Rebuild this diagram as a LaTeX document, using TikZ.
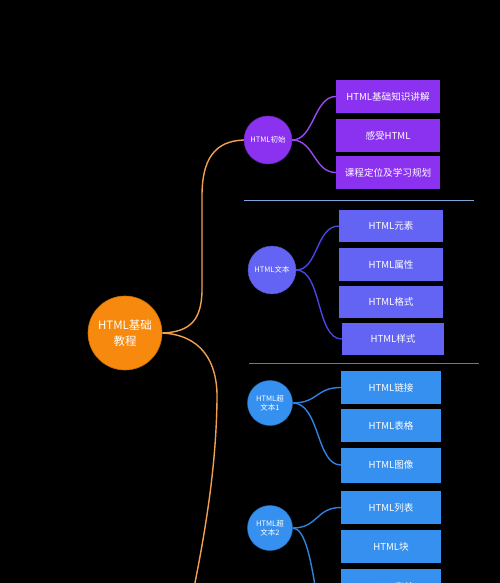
\documentclass[tikz,border=0pt]{standalone}
\usepackage{fontspec}
\setmainfont{Noto Sans CJK SC}
\definecolor{rootc}{HTML}{F7890E}
\definecolor{rootline}{HTML}{F2A050}
\definecolor{purp}{HTML}{8B32F0}
\definecolor{purpline}{HTML}{9A48F0}
\definecolor{indi}{HTML}{6464F4}
\definecolor{indiline}{HTML}{4646E6}
\definecolor{blu}{HTML}{3590F0}
\definecolor{bluline}{HTML}{2E82E2}
\definecolor{sepa}{HTML}{7FA6D6}
\definecolor{sepb}{HTML}{3A82D8}
\tikzset{
  topic/.style={circle, inner sep=0pt, text=white, align=center, font=\fontsize{7.5}{9}\selectfont},
  leaf/.style={rectangle, inner sep=0pt, text=white, align=center, font=\fontsize{9.6}{11}\selectfont, minimum height=33pt},
  conn/.style={line width=1.4pt},
}
\begin{document}
\begin{tikzpicture}[x=1pt,y=-1pt]
\useasboundingbox (0,0) rectangle (500,583);
\clip (0,0) rectangle (500,583);
\fill[black] (0,0) rectangle (500,583);

% root
\node[topic, fill=rootc, draw=rootc!80!black, line width=0.6pt, minimum size=74pt, font=\fontsize{11.5}{16}\selectfont] (root) at (125,333) {HTML基础\\教程};

% section 1
\node[topic, fill=purp, draw=purp!80!black, minimum size=48pt] (init) at (268,140) {HTML初始};
\node[leaf, fill=purp, minimum width=104pt] (b11) at (388,96.5) {HTML基础知识讲解};
\node[leaf, fill=purp, minimum width=104pt] (b12) at (388,135.5) {感受HTML};
\node[leaf, fill=purp, minimum width=104pt] (b13) at (388,172.5) {课程定位及学习规划};
\coordinate (s1a) at (244,200);
\coordinate (s1b) at (474,200);
\draw[sepa, line width=1pt] (s1a) -- (s1b);

% section 2
\node[topic, fill=indi, draw=indi!80!black, minimum size=48pt] (text) at (272,270) {HTML文本};
\node[leaf, fill=indi, minimum width=104pt, minimum height=32pt] (b21) at (391,226) {HTML元素};
\node[leaf, fill=indi, minimum width=104pt] (b22) at (391,264.5) {HTML属性};
\node[leaf, fill=indi, minimum width=104pt, minimum height=32pt] (b23) at (391,302) {HTML格式};
\node[leaf, fill=indi, minimum width=102pt, minimum height=32pt] (b24) at (393,339) {HTML样式};
\coordinate (s2a) at (249,363);
\coordinate (s2b) at (479,363);
\draw[sepb, line width=1pt] (s2a) -- (s2b);

% section 3
\node[topic, fill=blu, draw=blu!80!black, minimum size=45pt] (hyp1) at (270,403) {HTML超\\文本1};
\node[leaf, fill=blu, minimum width=100pt] (b31) at (391,387.5) {HTML链接};
\node[leaf, fill=blu, minimum width=100pt] (b32) at (391,425.5) {HTML表格};
\node[leaf, fill=blu, minimum width=100pt, minimum height=35pt] (b33) at (391,465) {HTML图像};

% section 4
\node[topic, fill=blu, draw=blu!80!black, minimum size=45pt] (hyp2) at (270,528) {HTML超\\文本2};
\node[leaf, fill=blu, minimum width=100pt] (b41) at (391,507.5) {HTML列表};
\node[leaf, fill=blu, minimum width=100pt] (b42) at (391,546.5) {HTML块};
\node[leaf, fill=blu, minimum width=100pt, minimum height=36pt] (b43) at (391,587) {HTML表单};

% free ends below the page
\coordinate (rootdown) at (183,640);
\coordinate (hyp2down) at (341,690);

% root connectors
\draw[conn, rootline] (root.east) .. controls (192,332) and (201,318) .. (202,292)
   -- (202,196) .. controls (202,160) and (214,141) .. (init.west);
\draw[conn, rootline] (root.east) .. controls (200,335) and (218,360) .. (217,400)
   .. controls (216,470) and (205,540) .. (rootdown);

% section connectors
\draw[conn, purpline] (init.east) .. controls (314,140) and (314,96.5) .. (b11.west);
\draw[conn, purpline] (init.east) .. controls (314,140) and (314,172.5) .. (b13.west);
\draw[conn, indiline] (text.east) .. controls (318,270) and (316,226) .. (b21.west);
\draw[conn, indiline] (text.east) .. controls (322,270) and (316,339) .. (b24.west);
\draw[conn, bluline] (hyp1.east) .. controls (318,403) and (316,387.5) .. (b31.west);
\draw[conn, bluline] (hyp1.east) .. controls (320,403) and (316,465) .. (b33.west);
\draw[conn, bluline] (hyp2.east) .. controls (318,528) and (316,507.5) .. (b41.west);
\draw[conn, bluline] (hyp2.east) .. controls (318,528) and (316,660) .. (hyp2down);
\end{tikzpicture}
\end{document}
